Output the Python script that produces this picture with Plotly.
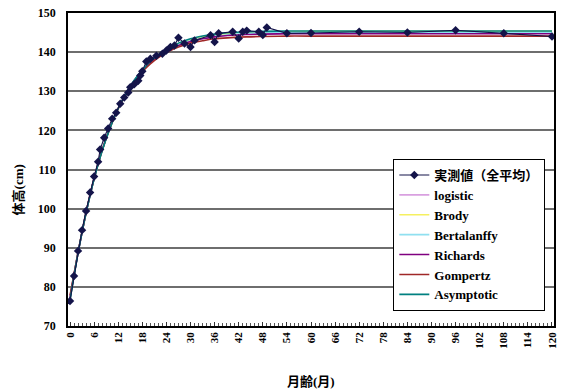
import plotly.graph_objects as go

# Observed mean body height (cm) by age in months
obs_month = [0, 1, 2, 3, 4, 5, 6, 7, 7.5, 8.5, 9.5, 10.5, 11.5, 12.5, 13.5, 14.5,
             15, 16, 17, 17.5, 18, 19, 20, 21.5, 23, 24, 25, 26, 27, 28.5, 30, 31,
             35, 36, 37, 40.5, 42, 43, 44, 47, 48, 49, 54, 60, 72, 84, 96, 108, 120]
obs_height = [76.4, 82.8, 89.2, 94.5, 99.4, 104.1, 108.2, 112.0, 115.1, 118.1, 120.5,
              123.0, 124.5, 126.8, 128.4, 129.7, 131.0, 131.8, 132.7, 134.0, 135.1,
              137.6, 138.3, 139.1, 139.6, 140.4, 141.3, 141.7, 143.7, 142.2, 141.3,
              143.0, 144.3, 142.6, 144.8, 145.2, 143.5, 145.2, 145.5, 145.2, 144.4,
              146.3, 144.8, 144.9, 145.2, 145.0, 145.6, 144.8, 144.0]

# Fitted growth curves, sampled on a common month grid
fit_month = [0, 1, 2, 3, 4, 5, 6, 8, 10, 12, 14, 16, 18, 20, 22, 24, 27, 30, 33, 36,
             40, 44, 48, 54, 60, 72, 84, 96, 108, 120]
fit_logistic = [77.5, 83.2, 88.8, 94.0, 99.0, 103.6, 107.8, 115.0, 120.9, 125.7, 129.6,
                132.8, 135.4, 137.5, 139.1, 140.4, 141.8, 142.8, 143.5, 144.0, 144.4,
                144.6, 144.7, 144.8, 144.9, 144.9, 144.9, 144.9, 144.9, 144.9]
fit_brody = [76.8, 83.0, 88.8, 94.1, 99.0, 103.5, 107.6, 114.8, 120.7, 125.5, 129.4,
             132.6, 135.2, 137.3, 139.0, 140.4, 142.0, 143.1, 143.9, 144.4, 144.8,
             145.0, 145.1, 145.2, 145.3, 145.3, 145.3, 145.3, 145.3, 145.3]
fit_bertalanffy = [77.0, 83.0, 88.7, 94.0, 98.9, 103.4, 107.6, 114.8, 120.7, 125.6, 129.5,
                   132.7, 135.3, 137.4, 139.0, 140.4, 141.9, 142.9, 143.6, 144.1, 144.5,
                   144.8, 144.9, 145.0, 145.0, 145.0, 145.0, 145.0, 145.0, 145.0]
fit_richards = [77.2, 83.1, 88.8, 94.0, 99.0, 103.5, 107.7, 114.9, 120.8, 125.6, 129.5,
                132.7, 135.3, 137.4, 139.0, 140.3, 141.7, 142.7, 143.4, 143.9, 144.3,
                144.5, 144.6, 144.7, 144.7, 144.7, 144.7, 144.7, 144.7, 144.7]
fit_gompertz = [77.8, 83.3, 88.8, 94.0, 98.9, 103.5, 107.7, 114.9, 120.8, 125.6, 129.4,
                132.5, 135.0, 137.0, 138.6, 139.9, 141.3, 142.3, 142.9, 143.4, 143.7,
                143.9, 144.0, 144.1, 144.1, 144.1, 144.1, 144.1, 144.1, 144.1]
fit_asymptotic = [76.6, 82.9, 88.7, 94.0, 98.9, 103.4, 107.6, 114.8, 120.7, 125.6, 129.5,
                  132.8, 135.4, 137.6, 139.3, 140.7, 142.3, 143.4, 144.1, 144.6, 145.0,
                  145.2, 145.3, 145.4, 145.4, 145.4, 145.4, 145.4, 145.4, 145.4]

fits = [
    ("logistic", fit_logistic, "#d9a0e0"),
    ("Brody", fit_brody, "#f5f060"),
    ("Bertalanffy", fit_bertalanffy, "#90e0f0"),
    ("Richards", fit_richards, "#800080"),
    ("Gompertz", fit_gompertz, "#a02828"),
    ("Asymptotic", fit_asymptotic, "#008080"),
]

x_ticks = list(range(0, 121, 6))
y_ticks = list(range(70, 151, 10))

FONT = "Liberation Serif, 'Noto Sans CJK JP', serif"

fig = go.Figure()

for rank, (name, vals, color) in enumerate(fits, start=2):
    fig.add_trace(go.Scatter(
        x=fit_month, y=vals, mode="lines", name=name,
        line=dict(color=color, width=1.6, shape="spline"),
        legendrank=rank,
    ))

fig.add_trace(go.Scatter(
    x=obs_month, y=obs_height, mode="lines+markers", name="実測値（全平均）",
    line=dict(color="#14144a", width=1.1),
    marker=dict(symbol="diamond", size=6.5, color="#14144a"),
    legendrank=1,
))

plot_w = 561 - 68 - 3
plot_h = 392 - 13 - 66

fig.update_layout(
    width=561, height=392,
    margin=dict(l=68, r=3, t=13, b=66),
    paper_bgcolor="white", plot_bgcolor="white",
    font=dict(family=FONT, size=12, color="black"),
    showlegend=True,
    legend=dict(
        x=(396 - 68) / plot_w, y=(326 - 159) / plot_h, xanchor="left", yanchor="top",
        bgcolor="white", bordercolor="black", borderwidth=1,
        font=dict(family=FONT, size=13, color="black", weight="bold"),
        tracegroupgap=0, itemwidth=30,
    ),
    xaxis=dict(
        range=[-0.5, 120.5], tickvals=x_ticks, ticktext=[str(v) for v in x_ticks],
        tickangle=-90, showgrid=False, zeroline=False,
        showline=True, linecolor="black", linewidth=1.5, mirror=True,
        ticks="inside", ticklen=4, tickcolor="#333",
        minor=dict(dtick=1, ticks="inside", ticklen=3, tickcolor="#555"),
        tickfont=dict(family=FONT, size=11, color="black", weight="bold"),
    ),
    yaxis=dict(
        range=[70, 150], tickvals=y_ticks, showgrid=True,
        gridcolor="#6e6e6e", gridwidth=1.6, zeroline=False,
        showline=True, linecolor="black", linewidth=1.5, mirror=True,
        ticks="", ticklabelstandoff=8,
        tickfont=dict(family=FONT, size=12, color="black", weight="bold"),
    ),
    annotations=[
        dict(text="<b>体高(cm)</b>", x=(18 - 68) / plot_w, y=(326 - 190) / plot_h,
             xref="paper", yref="paper", xanchor="center", yanchor="middle",
             showarrow=False, textangle=-90, font=dict(family=FONT, size=13)),
        dict(text="<b>月齢(月)</b>", x=0.5, y=(326 - 372) / plot_h,
             xref="paper", yref="paper", xanchor="center", yanchor="top",
             showarrow=False, font=dict(family=FONT, size=13)),
    ],
)

fig.write_html("out.html")
